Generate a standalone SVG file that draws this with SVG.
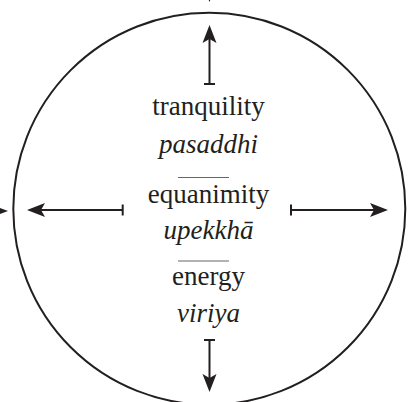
<svg xmlns="http://www.w3.org/2000/svg" width="409" height="402" viewBox="0 0 409 402">
<defs>
<path id="ah" d="M0,0 L-18,-7 L-14,0 L-18,7 z"/>
</defs>
<rect width="409" height="402" fill="#fff"/>
<g id="circle">
<circle cx="209.3" cy="208.7" r="196" fill="none" stroke="#231f20" stroke-width="2"/>
</g>
<g id="connectors" stroke="#231f20" stroke-width="2" fill="#231f20">
<line x1="209.5" y1="84" x2="209.5" y2="38"/>
<line x1="204" y1="84" x2="215" y2="84"/>
<use href="#ah" transform="translate(209.5,25) rotate(-90)" stroke="none"/>
<line x1="209.5" y1="340" x2="209.5" y2="380"/>
<line x1="204" y1="340" x2="215" y2="340"/>
<use href="#ah" transform="translate(209.5,392) rotate(90)" stroke="none"/>
<line x1="122.7" y1="210" x2="40" y2="210"/>
<line x1="122.7" y1="204.5" x2="122.7" y2="215.5"/>
<use href="#ah" transform="translate(27,210) rotate(180)" stroke="none"/>
<line x1="291" y1="210" x2="375" y2="210"/>
<line x1="291" y1="204.5" x2="291" y2="215.5"/>
<use href="#ah" transform="translate(388,210)" stroke="none"/>
<use href="#ah" transform="translate(8,211)" stroke="none"/>
<use href="#ah" transform="translate(209.5,2) rotate(90)" stroke="none"/>
</g>
<g id="tranquility">
<text x="208.5" y="115" font-family="Times New Roman" font-size="27" text-anchor="middle" fill="#231f20">tranquility</text>
<text x="208.5" y="153" font-family="Times New Roman" font-size="27" text-anchor="middle" fill="#231f20" font-style="italic">pasaddhi</text>
</g>
<line x1="178" y1="177.5" x2="229" y2="177.5" stroke="#666" stroke-width="1.2"/>
<g id="equanimity">
<text x="208.5" y="203" font-family="Times New Roman" font-size="27" text-anchor="middle" fill="#231f20">equanimity</text>
<text x="208.5" y="239" font-family="Times New Roman" font-size="27" text-anchor="middle" fill="#231f20" font-style="italic">upekkhā</text>
</g>
<line x1="178" y1="261" x2="229" y2="261" stroke="#666" stroke-width="1.2"/>
<g id="energy">
<text x="208.5" y="285" font-family="Times New Roman" font-size="27" text-anchor="middle" fill="#231f20">energy</text>
<text x="208.5" y="322" font-family="Times New Roman" font-size="27" text-anchor="middle" fill="#231f20" font-style="italic">viriya</text>
</g>
</svg>
